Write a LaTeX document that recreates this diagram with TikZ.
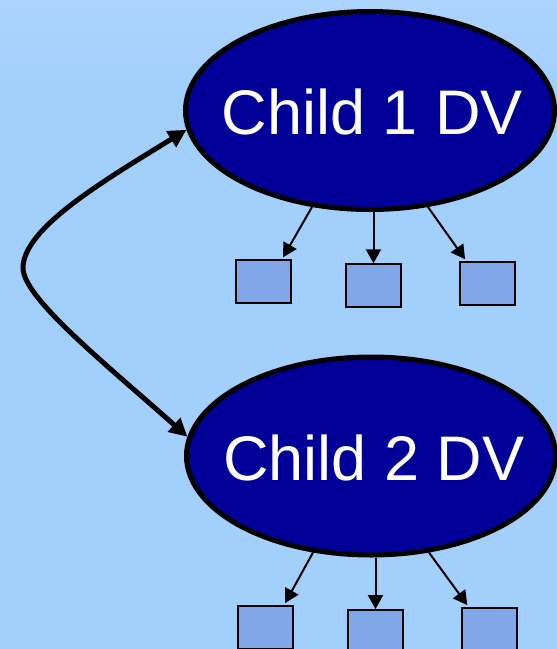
\documentclass[tikz,border=0pt]{standalone}
\usepackage{fontspec}
\setmainfont{Liberation Sans}
\usetikzlibrary{shapes.geometric,arrows.meta,calc}
\definecolor{bgblue}{RGB}{162,207,252}
\definecolor{bgtop}{RGB}{172,212,252}
\definecolor{dvblue}{RGB}{0,0,153}
\definecolor{boxblue}{RGB}{128,168,232}
\tikzset{
  dv/.style={ellipse, draw=black, line width=5pt, fill=dvblue,
    minimum width=369pt, minimum height=198pt, inner sep=0pt},
  dvtext/.style={text=white, inner sep=0pt, font=\fontsize{63}{63}\selectfont},
  leaf/.style={rectangle, draw=black, line width=1.8pt, fill=boxblue,
    minimum width=55pt, minimum height=43pt, inner sep=0pt},
  small/.style={line width=2pt, -{Triangle[length=14pt,width=15pt]}},
  big/.style={line width=5pt, {Triangle[length=18pt,width=18pt]}-{Triangle[length=18pt,width=18pt]}}
}
\begin{document}
\begin{tikzpicture}[x=1pt,y=-1pt]
\useasboundingbox (0,0) rectangle (557,649);
\fill[bgblue] (0,0) rectangle (557,649);
\shade[top color=bgtop, bottom color=bgblue] (0,0) rectangle (557,90);
\node[dv] (e1) at (370,110.5) {};
\node[dv] (e2) at (371,456) {};
\node[dvtext] (t1) at (372.5,112) {Child 1 DV};
\node[dvtext] (t2) at (374,458) {Child 2 DV};
\node[leaf] (a1) at (263.7,281.7) {};
\node[leaf] (a2) at (373.5,285.7) {};
\node[leaf] (a3) at (487.5,283.7) {};
\node[leaf] (b1) at (265.7,627.5) {};
\node[leaf] (b2) at (375.5,631.5) {};
\node[leaf] (b3) at (489.7,629.5) {};
\coordinate (bend) at (23,268);
\draw[small] (e1.239) -- ($(a1.north east)+(-9,-2)$);
\draw[small] (a2.north |- e1.south) -- (a2.north);
\draw[small] (e1.301) -- ($(a3.north west)+(6,-2)$);
\draw[small] (e2.239) -- ($(b1.north east)+(-9,-2)$);
\draw[small] (b2.north |- e2.south) -- (b2.north);
\draw[small] (e2.301) -- ($(b3.north west)+(6,-2)$);
\draw[big] (e1.186) .. controls (105,180) and (23,228) .. (bend)
  .. controls (23,298) and (107,365) .. (e2.174);
\end{tikzpicture}
\end{document}
